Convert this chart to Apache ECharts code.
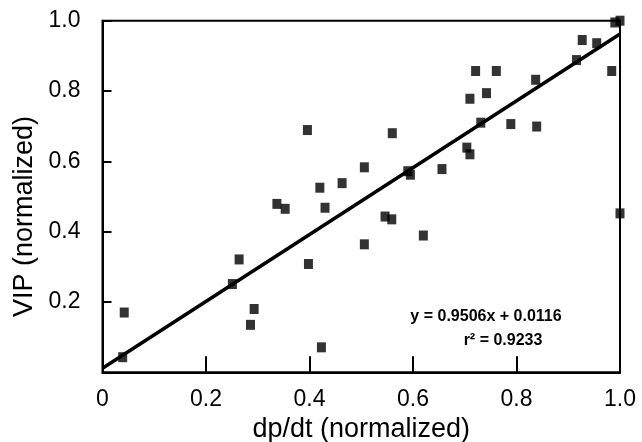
<!DOCTYPE html>
<html><head><meta charset="utf-8">
<script src="https://cdn.jsdelivr.net/npm/echarts@6/dist/echarts.min.js"></script>
<style>html,body{margin:0;padding:0;background:#fff}#c{width:642px;height:442px}</style>
</head><body><div id="c"></div>
<script>
const dpdt = [0.039,0.042,0.251,0.264,0.286,0.293,0.337,0.353,0.398,0.396,0.420,0.430,0.423,0.463,0.506,0.506,0.546,0.559,0.560,0.590,0.595,0.620,0.656,0.704,0.710,0.710,0.721,0.731,0.742,0.761,0.789,0.837,0.839,0.916,0.927,0.955,0.984,0.990,1.000,1.000];
const vip  = [0.043,0.170,0.251,0.321,0.135,0.180,0.479,0.465,0.308,0.689,0.525,0.468,0.071,0.538,0.583,0.364,0.443,0.435,0.680,0.572,0.562,0.389,0.578,0.639,0.620,0.778,0.857,0.710,0.794,0.857,0.706,0.832,0.699,0.888,0.945,0.936,0.857,0.995,1.000,0.452];
const trendX = [0, 1];
const trendY = [0.0116, 0.9622];
const xTicks = [0, 0.2, 0.4, 0.6, 0.8, 1.0];
const yTicks = [0.2, 0.4, 0.6, 0.8, 1.0];
const eqText = 'y = 0.9506x + 0.0116';
const r2Text = 'r\u00B2 = 0.9233';

const chart = echarts.init(document.getElementById('c'), null, {renderer:'canvas'});
const font = 'Liberation Sans, Arial, sans-serif';
chart.setOption({
  animation:false,
  backgroundColor:'#fff',
  grid:{left:102.5, right:22, top:20.7, bottom:69.7, show:true, borderColor:'#000', borderWidth:2, containLabel:false, outerBoundsMode:'none'},
  xAxis:{type:'value', min:0, max:1, interval:0.2,
    name:'dp/dt (normalized)', nameLocation:'middle', nameGap:44,
    nameTextStyle:{fontFamily:font, fontSize:27, color:'#000'},
    axisLine:{show:true, lineStyle:{color:'#000', width:2}},
    axisTick:{show:true, inside:true, length:16, lineStyle:{color:'#000', width:2}},
    axisLabel:{margin:16, fontFamily:font, fontSize:23, color:'#000',
      formatter:v=>{const t=xTicks.find(k=>Math.abs(k-v)<1e-6); return t===undefined?'':(t===0?'0':t.toFixed(1));}},
    splitLine:{show:false}},
  yAxis:{type:'value', min:0, max:1, interval:0.2,
    name:'VIP (normalized)', nameLocation:'middle', nameGap:51,
    nameTextStyle:{fontFamily:font, fontSize:27, color:'#000', padding:[0,40,0,0]},
    axisLine:{show:true, lineStyle:{color:'#000', width:2}},
    axisTick:{show:true, inside:true, length:9, lineStyle:{color:'#000', width:2}},
    axisLabel:{margin:22, fontFamily:font, fontSize:23, color:'#000', showMinLabel:false,
      formatter:v=>{const t=yTicks.find(k=>Math.abs(k-v)<1e-6); return t===undefined?'':t.toFixed(1);}},
    splitLine:{show:false}},
  series:[
    {type:'line', data:trendX.map((x,i)=>[x,trendY[i]]), symbol:'none', lineStyle:{color:'#000', width:3.5}, z:2, silent:true},
    {type:'scatter', data:dpdt.map((x,i)=>[x,vip[i]]), symbol:'rect', symbolSize:[9,10], itemStyle:{color:'#000'}, clip:false, z:3}
  ],
  graphic:[
    {type:'text', x:486, y:317, style:{text:eqText, font:'bold 16px '+font, fill:'#000', align:'center', verticalAlign:'middle'}},
    {type:'text', x:503, y:341, style:{text:r2Text, font:'bold 16px '+font, fill:'#000', align:'center', verticalAlign:'middle'}}
  ]
});
</script></body></html>
